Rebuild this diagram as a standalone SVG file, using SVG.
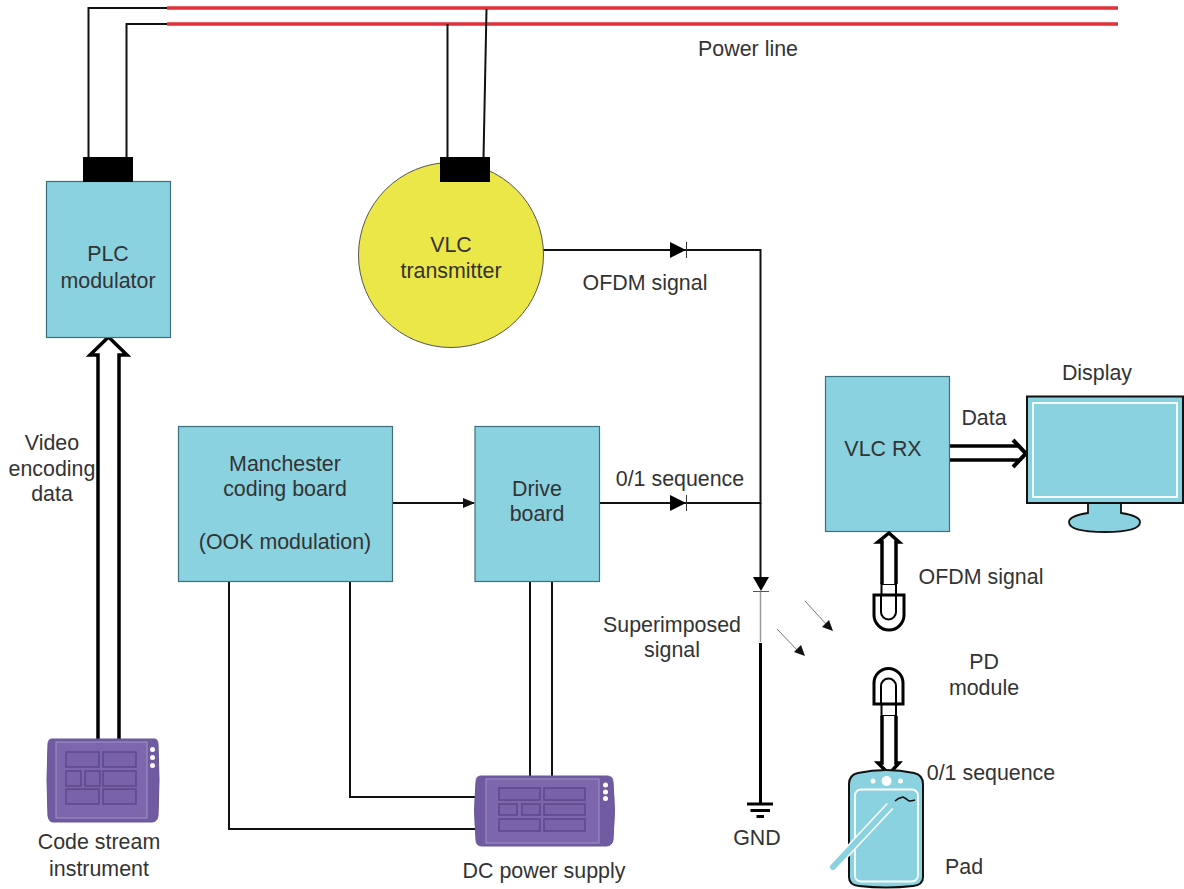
<svg xmlns="http://www.w3.org/2000/svg" xmlns:xlink="http://www.w3.org/1999/xlink" width="1184" height="889" viewBox="0 0 1184 889">
<style>
text{font-family:"Liberation Sans",Arial,sans-serif;font-size:21.4px;fill:#333;text-anchor:middle}
.box{fill:#8ad2e0;stroke:#3d6f7c;stroke-width:1.2}
.w{fill:none;stroke:#111;stroke-width:2}
.red{fill:none;stroke:#e0303a;stroke-width:3.4}
.thick{fill:none;stroke:#000;stroke-width:3}
.pcell{fill:#7a62a8;stroke:#5f4a8c;stroke-width:1.6}
.wh{fill:none;stroke:#fff;stroke-width:1.8}
</style>
<defs>
<marker id="ah" markerUnits="userSpaceOnUse" markerWidth="12" markerHeight="10" refX="11" refY="5" orient="auto"><path d="M0 0L12 5L0 10Z" fill="#111"/></marker>
<g id="diode"><path d="M-8 -8L8 0L-8 8Z" fill="#000"/><path d="M8.500 -8V8" stroke="#333" stroke-width="1" fill="none"/></g>
</defs>
<g id="connectors">
<path class="red" d="M167 8H1118M167 24H1118"/>
<path class="w" d="M167 8H88.500V160M167 24H126.500V160"/>
<path class="w" d="M447.500 24V158M486.500 9L483.500 158"/>
<path class="w" d="M542 250H760.500V504"/>
<path class="w" d="M600 503H760.500"/>
<path class="w" d="M393 503H474" marker-end="url(#ah)"/>
<path class="w" d="M760.500 503V578"/>
<path d="M760.500 592V642" fill="none" stroke="#999" stroke-width="1.5"/>
<path class="thick" d="M760.500 643V804"/>
<path class="w" d="M229 582V829H476M350 582V797H476"/>
<path class="w" d="M530 582V777M552 582V777"/>
<path d="M98 739V355H90L108.500 337L127 355H119V739" fill="#fff" stroke="#000" stroke-width="3.500"/>
<path d="M949 446H1020M949 460H1020" fill="none" stroke="#000" stroke-width="3.500"/>
<path d="M1013 440L1026 453.500L1013 467" fill="none" stroke="#000" stroke-width="4"/>
<path d="M805 601L826 624" stroke="#777" fill="none"/><path d="M833 631L822 627L829 620Z" fill="#111"/>
<path d="M777 629L799 652" stroke="#777" fill="none"/><path d="M805 656L794 652L801 645Z" fill="#111"/>
</g>
<use xlink:href="#diode" href="#diode" transform="translate(678 250)"/>
<use xlink:href="#diode" href="#diode" transform="translate(678 503)"/>
<g id="junction-diode"><path d="M753 577H769L761 591Z" fill="#000"/><path d="M753 591.500H769" stroke="#555" stroke-width="1"/></g>
<g id="gnd"><path d="M747 804H773" stroke="#000" stroke-width="3"/><path d="M750.500 810.500H770" stroke="#000" stroke-width="3"/><path d="M756.500 816.500H764" stroke="#000" stroke-width="3"/><text x="757" y="845">GND</text></g>
<g id="power-line"><text x="748" y="56">Power line</text></g>
<g id="plc"><rect class="box" x="46.500" y="181.500" width="124" height="156"/><rect x="83" y="157" width="50" height="25" fill="#000"/><text x="108" y="261">PLC</text><text x="108" y="288">modulator</text></g>
<g id="vlc-tx"><circle cx="451" cy="255" r="92.500" fill="#ece748" stroke="#555" stroke-width="1"/><rect x="440" y="157" width="50" height="25" fill="#000"/><text x="451" y="252">VLC</text><text x="451" y="278">transmitter</text></g>
<g id="manchester"><rect class="box" x="178.500" y="426.500" width="214" height="155"/><text x="285" y="471">Manchester</text><text x="285" y="496">coding board</text><text x="285" y="549">(OOK modulation)</text></g>
<g id="drive"><rect class="box" x="475" y="426.500" width="124.500" height="155"/><text x="537" y="496">Drive</text><text x="537" y="521">board</text></g>
<g id="vlc-rx"><rect class="box" x="825.500" y="376.500" width="124" height="155"/><text x="883" y="456">VLC RX</text></g>
<g id="display"><path d="M1088 503V513Q1069 516 1069 522Q1069 532 1105 532Q1140 532 1140 522Q1140 516 1121 513V503Z" fill="#8ad2e0" stroke="#111" stroke-width="1.800"/><rect x="1027" y="396.500" width="156" height="106.500" fill="#8ad2e0" stroke="#111" stroke-width="2"/><rect class="wh" x="1033" y="403" width="144" height="94"/><text x="1097" y="380">Display</text></g>
<g id="code-stream">
<path d="M52 739H154Q158 739 158 744Q160 780 158 816Q157 822 152 822H53Q49 822 48 816Q46 780 48 744Q48 739 52 739Z" fill="#705aa2" stroke="#6a5698"/>
<rect x="56" y="742" width="91" height="76" fill="#7d66ab" stroke="#a294c8" stroke-width="1"/>
<rect class="pcell" x="66" y="752" width="33" height="15"/><rect class="pcell" x="103" y="752" width="33" height="15"/><rect class="pcell" x="66" y="771" width="15" height="15"/><rect class="pcell" x="85" y="771" width="15" height="15"/><rect class="pcell" x="103" y="771" width="33" height="15"/><rect class="pcell" x="66" y="789" width="33" height="15"/><rect class="pcell" x="103" y="789" width="33" height="15"/>
<circle cx="152.500" cy="749.500" r="2.500" fill="#fff"/><circle cx="152.500" cy="757.500" r="2.500" fill="#fff"/><circle cx="152.500" cy="765.500" r="2.500" fill="#fff"/>
<text x="99" y="849">Code stream</text><text x="99" y="876">instrument</text></g>
<g id="dc-supply">
<path d="M481 776H607Q613 776 613 782Q616 810 613 840Q612 846 606 846H482Q476 846 476 840Q473 810 476 782Q476 776 481 776Z" fill="#705aa2" stroke="#6a5698"/>
<rect x="486" y="779" width="113" height="64" fill="#7d66ab" stroke="#a294c8" stroke-width="1"/>
<rect class="pcell" x="499" y="788" width="41" height="12"/><rect class="pcell" x="544" y="788" width="41" height="12"/><rect class="pcell" x="499" y="804" width="18" height="11"/><rect class="pcell" x="522" y="804" width="18" height="11"/><rect class="pcell" x="544" y="804" width="41" height="11"/><rect class="pcell" x="499" y="819" width="41" height="12"/><rect class="pcell" x="544" y="819" width="41" height="12"/>
<circle cx="605.500" cy="785" r="2.500" fill="#fff"/><circle cx="605.500" cy="792" r="2.500" fill="#fff"/><circle cx="605.500" cy="798.500" r="2.500" fill="#fff"/>
<text x="544" y="878">DC power supply</text></g>
<g id="pd-top">
<path d="M881.500 594V584H896V594" fill="#fff" stroke="#000" stroke-width="2"/>
<path d="M882 584V542H878L889 533L899 542H896V584" fill="#fff" stroke="#000" stroke-width="3.500"/>
<path d="M874 595H904V615A15 15 0 0 1 874 615Z" fill="#fff" stroke="#000" stroke-width="3"/>
<path d="M881 595V612A7.500 7.500 0 0 0 896 612V595" fill="none" stroke="#000" stroke-width="2"/>
</g>
<g id="pd-bottom">
<path d="M881.500 704V716H896V704" fill="#fff" stroke="#000" stroke-width="2"/>
<path d="M882 716V763H878L889 774L899 763H896V716" fill="#fff" stroke="#000" stroke-width="3.500"/>
<path d="M874 704H903V683A14.500 14.500 0 0 0 874 683Z" fill="#fff" stroke="#000" stroke-width="3"/>
<path d="M881 704V686A7.500 7.500 0 0 1 896 686V704" fill="none" stroke="#000" stroke-width="2"/>
<text x="984" y="669">PD</text><text x="984" y="695">module</text>
</g>
<g id="pad">
<path d="M858 773Q886 767 914 773Q923 775 923 784V877Q923 885 913 886Q886 889 859 886Q849 885 849 877V784Q849 775 858 773Z" fill="#8ad2e0" stroke="#111" stroke-width="2"/>
<rect class="wh" x="855" y="789.500" width="63" height="92" rx="6"/>
<circle cx="886.500" cy="781" r="5" fill="#fff"/><circle cx="873" cy="781" r="2.500" fill="#fff"/><circle cx="900.500" cy="781" r="2.500" fill="#fff"/>
<path d="M834 866L890 806" stroke="#fff" stroke-width="9" stroke-linecap="butt"/><path d="M833 867L890 806L895 801" stroke="#8ad2e0" stroke-width="6" stroke-linecap="round"/>
<path d="M895 801Q898 798 903 797Q907 799 909 801Q912 801 915 800" fill="none" stroke="#111" stroke-width="1.500"/>
<text x="964" y="874">Pad</text></g>
<g id="labels">
<text x="52" y="450">Video</text><text x="52" y="476">encoding</text><text x="52" y="501">data</text>
<text x="645" y="290">OFDM signal</text>
<text x="680" y="486">0/1 sequence</text>
<text x="672" y="632">Superimposed</text><text x="672" y="657">signal</text>
<text x="984" y="425">Data</text>
<text x="981" y="584">OFDM signal</text>
<text x="991" y="780">0/1 sequence</text>
</g>
</svg>
